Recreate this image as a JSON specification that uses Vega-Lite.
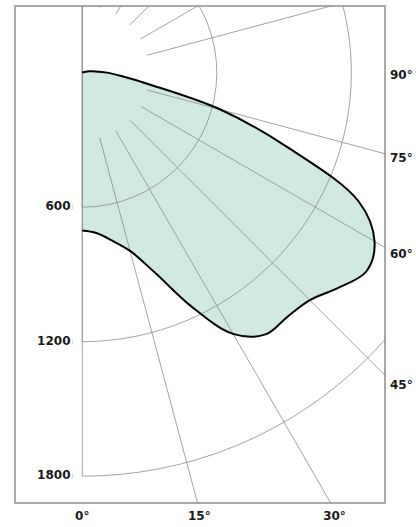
{
  "$schema": "https://vega.github.io/schema/vega-lite/v6.json",
  "width": 370,
  "height": 497,
  "autosize": {"type": "none"},
  "padding": {"left": 15, "top": 6, "right": 31, "bottom": 24},
  "background": "white",
  "config": {
    "view": {"stroke": "#a9a9a9", "strokeWidth": 2},
    "text": {"font": "DejaVu Sans", "fontWeight": "bold", "fontSize": 12, "color": "#1a1a1a"}
  },
  "datasets": {
    "curve": [
      {"i": 1, "a": 0, "cd": 704},
      {"i": 2, "a": 5, "cd": 718},
      {"i": 3, "a": 10, "cd": 760},
      {"i": 4, "a": 15, "cd": 823},
      {"i": 5, "a": 20, "cd": 950},
      {"i": 6, "a": 25, "cd": 1150},
      {"i": 7, "a": 30, "cd": 1345},
      {"i": 8, "a": 35, "cd": 1425},
      {"i": 9, "a": 40, "cd": 1422},
      {"i": 10, "a": 45, "cd": 1435},
      {"i": 11, "a": 50, "cd": 1492},
      {"i": 12, "a": 55, "cd": 1546},
      {"i": 13, "a": 60, "cd": 1505},
      {"i": 14, "a": 65, "cd": 1360},
      {"i": 15, "a": 70, "cd": 975},
      {"i": 16, "a": 75, "cd": 640},
      {"i": 17, "a": 80, "cd": 305},
      {"i": 18, "a": 85, "cd": 175},
      {"i": 19, "a": 90, "cd": 110},
      {"i": 20, "a": 95, "cd": 60},
      {"i": 21, "a": 100, "cd": 32},
      {"i": 22, "a": 105, "cd": 15},
      {"i": 23, "a": 110, "cd": 5},
      {"i": 24, "a": 120, "cd": 0}
    ],
    "circles": [{"r": 600}, {"r": 1200}, {"r": 1800}],
    "spokes": [
      {"a": 15}, {"a": 30}, {"a": 45}, {"a": 60}, {"a": 75},
      {"a": 105}, {"a": 120}, {"a": 135}, {"a": 150}, {"a": 165}
    ],
    "bottomLabels": [{"a": 0, "t": "0°"}, {"a": 15, "t": "15°"}, {"a": 30, "t": "30°"}],
    "rightLabels": [{"a": 45, "t": "45°"}, {"a": 60, "t": "60°"}, {"a": 75, "t": "75°"}, {"a": 90, "t": "90°"}],
    "leftLabels": [{"v": 600, "t": "600"}, {"v": 1200, "t": "1200"}, {"v": 1800, "t": "1800"}]
  },
  "layer": [
    {
      "data": {"name": "curve"},
      "transform": [
        {"calculate": "datum.cd * sin(datum.a * PI / 180)", "as": "px"},
        {"calculate": "datum.cd * cos(datum.a * PI / 180)", "as": "py"}
      ],
      "mark": {"type": "line", "interpolate": "catmull-rom", "fill": "#d0eae3", "stroke": null, "clip": true},
      "encoding": {
        "x": {"field": "px", "type": "quantitative", "axis": null, "scale": {"domain": [-300, 1350], "nice": false, "zero": false}},
        "y": {"field": "py", "type": "quantitative", "axis": null, "scale": {"domain": [-297, 1919], "nice": false, "zero": false, "reverse": true}},
        "order": {"field": "i", "type": "quantitative"}
      }
    },
    {
      "data": {"name": "circles"},
      "mark": {"type": "arc", "filled": false, "stroke": "#8c8c8c", "strokeWidth": 0.8, "theta": 0, "theta2": 3.14159265, "clip": true},
      "encoding": {
        "x": {"datum": 0, "type": "quantitative", "axis": null},
        "y": {"datum": 0, "type": "quantitative", "axis": null},
        "radius": {"field": "r", "type": "quantitative", "stack": null, "scale": {"type": "linear", "domain": [0, 1800], "range": [0, 403.6], "zero": true}, "legend": null}
      }
    },
    {
      "data": {"name": "spokes"},
      "transform": [
        {"calculate": "300 * sin(datum.a * PI / 180)", "as": "x1"},
        {"calculate": "300 * cos(datum.a * PI / 180)", "as": "y1"},
        {"calculate": "2600 * sin(datum.a * PI / 180)", "as": "x2"},
        {"calculate": "2600 * cos(datum.a * PI / 180)", "as": "y2"}
      ],
      "mark": {"type": "rule", "stroke": "#8c8c8c", "strokeWidth": 0.8, "clip": true},
      "encoding": {
        "x": {"field": "x1", "type": "quantitative", "axis": null},
        "y": {"field": "y1", "type": "quantitative", "axis": null},
        "x2": {"field": "x2"},
        "y2": {"field": "y2"}
      }
    },
    {
      "mark": {"type": "rule", "stroke": "#a9a9a9", "strokeWidth": 2},
      "encoding": {"x": {"datum": 0, "type": "quantitative", "axis": null}}
    },
    {
      "mark": {"type": "rule", "stroke": "#a9a9a9", "strokeWidth": 2},
      "encoding": {"y": {"datum": 0, "type": "quantitative", "axis": null}}
    },
    {
      "data": {"name": "curve"},
      "transform": [
        {"calculate": "datum.cd * sin(datum.a * PI / 180)", "as": "px"},
        {"calculate": "datum.cd * cos(datum.a * PI / 180)", "as": "py"}
      ],
      "mark": {"type": "line", "interpolate": "catmull-rom", "stroke": "#000000", "strokeWidth": 2, "clip": true},
      "encoding": {
        "x": {"field": "px", "type": "quantitative", "axis": null},
        "y": {"field": "py", "type": "quantitative", "axis": null},
        "order": {"field": "i", "type": "quantitative"}
      }
    },
    {
      "data": {"name": "leftLabels"},
      "mark": {"type": "text", "align": "right", "baseline": "middle", "dy": -1},
      "encoding": {
        "x": {"datum": -52.5, "type": "quantitative", "axis": null},
        "y": {"field": "v", "type": "quantitative", "axis": null},
        "text": {"field": "t"}
      }
    },
    {
      "data": {"name": "leftLabels"},
      "mark": {"type": "tick", "orient": "vertical", "color": "#c4c4c4", "size": 5, "thickness": 1},
      "encoding": {
        "x": {"datum": -43, "type": "quantitative", "axis": null},
        "y": {"field": "v", "type": "quantitative", "axis": null}
      }
    },
    {
      "data": {"name": "bottomLabels"},
      "transform": [{"calculate": "1948 * tan(datum.a * PI / 180)", "as": "lx"}],
      "mark": {"type": "text", "align": "center", "baseline": "middle"},
      "encoding": {
        "x": {"field": "lx", "type": "quantitative", "axis": null},
        "y": {"datum": 1977, "type": "quantitative", "axis": null},
        "text": {"field": "t"}
      }
    },
    {
      "data": {"name": "rightLabels"},
      "transform": [{"calculate": "1384 * cos(datum.a * PI / 180) / sin(datum.a * PI / 180)", "as": "ly"}],
      "mark": {"type": "text", "align": "left", "baseline": "middle", "dy": 2},
      "encoding": {
        "x": {"datum": 1372, "type": "quantitative", "axis": null},
        "y": {"field": "ly", "type": "quantitative", "axis": null},
        "text": {"field": "t"}
      }
    }
  ]
}
